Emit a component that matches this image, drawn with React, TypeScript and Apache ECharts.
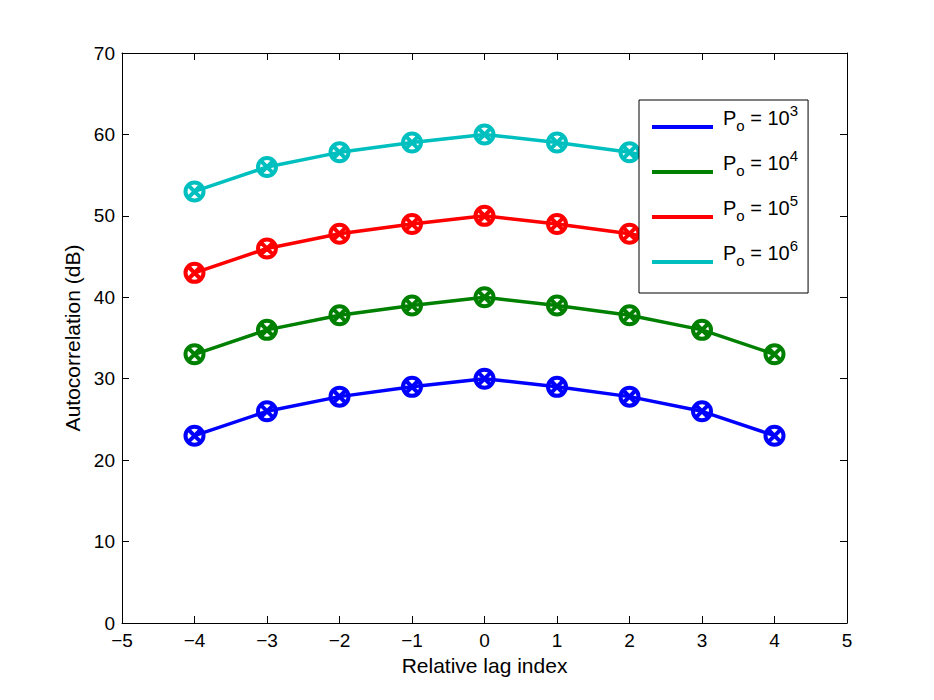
import React, { useEffect, useRef } from "react";
import * as echarts from "echarts";

const lags = [-4, -3, -2, -1, 0, 1, 2, 3, 4];
const po3 = [23.0, 26.0, 27.8, 29.0, 30.0, 29.0, 27.8, 26.0, 23.0];
const po4 = [33.0, 36.0, 37.8, 39.0, 40.0, 39.0, 37.8, 36.0, 33.0];
const po5 = [43.0, 46.0, 47.8, 49.0, 50.0, 49.0, 47.8, 46.0, 43.0];
const po6 = [53.0, 56.0, 57.8, 59.0, 60.0, 59.0, 57.8, 56.0, 53.0];
const exponents = ["3", "4", "5", "6"];
const seriesNames = ["Po = 10^3", "Po = 10^4", "Po = 10^5", "Po = 10^6"];
const colors = ["#0000ff", "#008000", "#ff0000", "#00bfbf"];
const xTitle = "Relative lag index";
const yTitle = "Autocorrelation (dB)";

const FONT = "'Liberation Sans', Arial, Helvetica, sans-serif";
const MARKER =
  "path://M10,0A10,10 0 1 1 -10,0A10,10 0 1 1 10,0ZM-7.07,-7.07L7.07,7.07M-7.07,7.07L7.07,-7.07";

export default function App() {
  const ref = useRef<HTMLDivElement>(null);
  useEffect(() => {
    if (!ref.current) return;
    const chart = echarts.init(ref.current, undefined, { renderer: "svg" });
    const allValues = [po3, po4, po5, po6];
    const minus = (v: number) => String(v).replace("-", "\u2212");
    const axisCommon = {
      type: "value" as const,
      axisLine: { show: true, onZero: false, lineStyle: { color: "#000", width: 1 } },
      axisTick: { show: true, inside: true, length: 7, lineStyle: { color: "#000", width: 1 } },
      splitLine: { show: false },
    };
    const txt = { color: "#000", fontFamily: FONT };
    chart.setOption({
      animation: false,
      backgroundColor: "#fff",
      grid: { left: 122, right: 87, top: 53, bottom: 77, containLabel: false },
      xAxis: [
        {
          ...axisCommon,
          min: -5,
          max: 5,
          interval: 1,
          position: "bottom",
          axisLabel: { ...txt, fontSize: 19, margin: 8, formatter: minus },
          name: xTitle,
          nameLocation: "middle",
          nameGap: 32,
          nameTextStyle: { ...txt, fontSize: 21 },
        },
        {
          ...axisCommon,
          min: -5,
          max: 5,
          interval: 1,
          position: "top",
          axisLabel: { show: false },
        },
      ],
      yAxis: [
        {
          ...axisCommon,
          min: 0,
          max: 70,
          interval: 10,
          position: "left",
          axisLabel: { ...txt, fontSize: 19, margin: 7, formatter: minus },
          name: yTitle,
          nameLocation: "middle",
          nameGap: 38,
          nameTextStyle: { ...txt, fontSize: 21 },
        },
        {
          ...axisCommon,
          min: 0,
          max: 70,
          interval: 10,
          position: "right",
          axisLabel: { show: false },
        },
      ],
      legend: {
        orient: "vertical",
        left: 639,
        top: 100,
        padding: [3, 10, 25, 13],
        itemGap: 15,
        itemWidth: 61,
        itemHeight: 4,
        icon: "rect",
        backgroundColor: "#fff",
        borderColor: "#000",
        borderWidth: 1,
        borderRadius: 0,
        z: 10,
        data: seriesNames.map((n, i) => ({
          name: n,
          itemStyle: { color: colors[i], borderWidth: 0 },
        })),
        formatter: (name: string) => {
          const i = seriesNames.indexOf(name);
          return `{P|P}{sub|o}{p| = 10}{sup|${exponents[i]}}`;
        },
        textStyle: {
          ...txt,
          padding: [0, 0, 18, 0],
          rich: {
            P: { ...txt, fontSize: 20, lineHeight: 30, padding: [0, 0, 0, 5] },
            p: { ...txt, fontSize: 20, lineHeight: 30 },
            sub: { ...txt, fontSize: 15, lineHeight: 10, verticalAlign: "bottom" },
            sup: { ...txt, fontSize: 15, lineHeight: 17, verticalAlign: "top" },
          },
        },
      },
      series: allValues.map((vals, i) => ({
        name: seriesNames[i],
        type: "line",
        xAxisIndex: 0,
        yAxisIndex: 0,
        data: lags.map((x, j) => [x, vals[j]]),
        symbol: MARKER,
        symbolSize: 18,
        showAllSymbol: true,
        lineStyle: { color: colors[i], width: 3.5 },
        itemStyle: { color: "rgba(0,0,0,0)", borderColor: colors[i], borderWidth: 4 },
        emphasis: { disabled: true },
        z: 2,
      })),
    });
    return () => chart.dispose();
  }, []);
  return <div ref={ref} style={{ width: 934, height: 700, position: "absolute", left: 0, top: 0 }} />;
}
